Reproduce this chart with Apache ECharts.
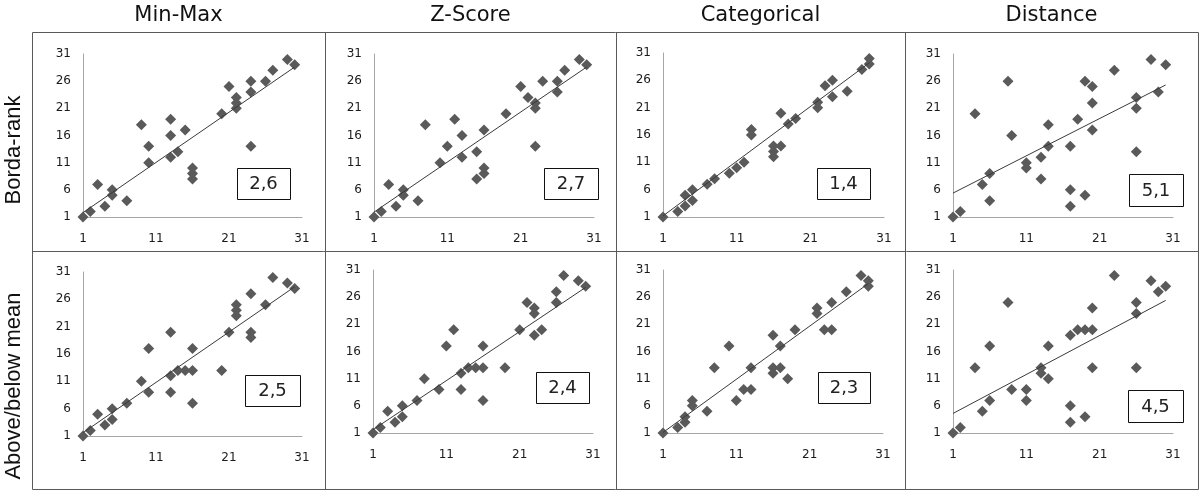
<!DOCTYPE html>
<html>
<head>
<meta charset="utf-8">
<script src="https://cdn.jsdelivr.net/npm/echarts@6/dist/echarts.min.js"></script>
<style>
html,body{margin:0;padding:0;background:#fff;}
#chart{width:1203px;height:491px;}
</style>
</head>
<body>
<div id="chart"></div>
<script>
// ---------- DATA ----------
const columnTitles = ['Min-Max', 'Z-Score', 'Categorical', 'Distance'];
const rowTitles = ['Borda-rank', 'Above/below mean'];
const yTickValues = [1, 6, 11, 16, 21, 26, 31];
const xTickValues = [1, 11, 21, 31];
const errorLabels = ['2,6', '2,7', '1,4', '5,1', '2,5', '2,4', '2,3', '4,5'];

const bordaMinMax = [[1,1],[2,2],[3,7],[4,3],[5,6],[5,5],[7,4],[9,18],[10,14],[10,11],[13,19],[13,16],[13,12],[14,13],[15,17],[16,10],[16,9],[16,8],[20,20],[21,25],[22,23],[22,22],[22,21],[24,26],[24,24],[24,14],[26,26],[27,28],[29,30],[30,29]];
const bordaZScore = [[1,1],[2,2],[3,7],[4,3],[5,6],[5,5],[7,4],[8,18],[10,11],[11,14],[12,19],[13,16],[13,12],[15,13],[15,8],[16,17],[16,10],[16,9],[19,20],[21,25],[22,23],[23,22],[23,21],[23,14],[24,26],[26,26],[26,24],[27,28],[29,30],[30,29]];
const bordaCategorical = [[1,1],[3,2],[4,3],[4,5],[5,4],[5,6],[7,7],[8,8],[10,9],[11,10],[12,11],[13,17],[13,16],[16,12],[16,13],[16,14],[17,14],[17,20],[18,18],[19,19],[22,22],[22,21],[23,25],[24,26],[24,23],[26,24],[28,28],[29,30],[29,29]];
const bordaDistance = [[1,1],[2,2],[4,20],[5,7],[6,4],[6,9],[8.5,26],[9,16],[11,11],[11,10],[13,12],[13,8],[14,18],[14,14],[17,14],[17,6],[17,3],[18,19],[19,26],[19,5],[20,25],[20,22],[20,17],[23,28],[26,23],[26,21],[26,13],[28,30],[29,24],[30,29]];
const aboveMinMax = [[1,1],[2,2],[3,5],[4,3],[5,6],[5,4],[7,7],[9,11],[10,17],[10,9],[13,20],[13,12],[13,9],[14,13],[15,13],[16,17],[16,13],[16,7],[20,13],[21,20],[22,25],[22,24],[22,23],[24,27],[24,20],[24,19],[26,25],[27,30],[29,29],[30,28]];
const aboveZScore = [[1,1],[2,2],[3,5],[4,3],[5,6],[5,4],[7,7],[8,11],[10,9],[11,17],[12,20],[13,12],[13,9],[14,13],[15,13],[16,17],[16,13],[16,7],[19,13],[21,20],[22,25],[23,24],[23,23],[23,19],[24,20],[26,27],[26,25],[27,30],[29,29],[30,28]];
const aboveCategorical = [[1,1],[3,2],[4,3],[4,4],[5,7],[5,6],[7,5],[8,13],[10,17],[11,7],[12,9],[13,9],[13,13],[16,19],[16,13],[16,12],[17,13],[17,17],[18,11],[19,20],[22,24],[22,23],[23,20],[24,25],[24,20],[26,27],[28,30],[29,29],[29,28]];
const aboveDistance = [[1,1],[2,2],[4,13],[5,5],[6,17],[6,7],[8.5,25],[9,9],[11,9],[11,7],[13,13],[13,12],[14,11],[14,17],[17,19],[17,6],[17,3],[18,20],[19,20],[19,4],[20,24],[20,20],[20,13],[23,30],[26,25],[26,23],[26,13],[28,29],[29,27],[30,28]];

const trendBordaMinMax = [[1,1.8],[30,28.6]];
const trendBordaZScore = [[1,1.9],[30,28.6]];
const trendBordaCategorical = [[1,1.2],[29,29.2]];
const trendBordaDistance = [[1,5.4],[30,25.3]];
const trendAboveMinMax = [[1,1.6],[30,28.3]];
const trendAboveZScore = [[1,1.6],[30,27.8]];
const trendAboveCategorical = [[1,1.1],[29,28.5]];
const trendAboveDistance = [[1,4.6],[30,25.4]];

const panelData = [bordaMinMax, bordaZScore, bordaCategorical, bordaDistance, aboveMinMax, aboveZScore, aboveCategorical, aboveDistance];
const panelTrends = [trendBordaMinMax, trendBordaZScore, trendBordaCategorical, trendBordaDistance, trendAboveMinMax, trendAboveZScore, trendAboveCategorical, trendAboveDistance];

// ---------- LAYOUT ----------
const gridBoxes = [
  [83, 54, 219, 163], [374, 54, 220, 163], [663, 53, 221, 164], [953, 54, 220, 163],
  [83, 272, 219, 164], [373, 270, 220, 163], [663, 270, 220, 163], [953, 270, 220, 163]
];
const labelBoxes = [
  [237, 168, 53, 31], [544, 168, 54, 31], [817, 168, 53, 31], [1129, 174, 54, 32],
  [245, 375, 55, 31], [536, 372, 53, 31], [818, 372, 52, 31], [1128, 390, 55, 32]
];
const frame = {left: 32, right: 1198, top: 32, mid: 251, bottom: 489, cols: [32, 325, 616, 905, 1198]};
const tickFont = {fontFamily: 'DejaVu Sans', fontSize: 12, color: '#1a1a1a'};

const grids = [], xAxes = [], yAxes = [], series = [];
gridBoxes.forEach((g, i) => {
  grids.push({left: g[0], top: g[1], width: g[2], height: g[3], containLabel: false});
  xAxes.push({
    gridIndex: i, type: 'value', min: 1, max: 31,
    axisLine: {show: true, onZero: false, lineStyle: {color: '#a6a6a6', width: 1}},
    axisTick: {show: false}, splitLine: {show: false},
    axisLabel: Object.assign({customValues: xTickValues, margin: 16}, tickFont)
  });
  yAxes.push({
    gridIndex: i, type: 'value', min: 1, max: 31,
    axisLine: {show: true, onZero: false, lineStyle: {color: '#a6a6a6', width: 1}},
    axisTick: {show: false}, splitLine: {show: false},
    axisLabel: Object.assign({customValues: yTickValues, margin: 12}, tickFont)
  });
  series.push({
    type: 'scatter', xAxisIndex: i, yAxisIndex: i, data: panelData[i],
    symbol: 'diamond', symbolSize: 11, itemStyle: {color: '#5a5a5a', opacity: 1},
    silent: true, z: 2
  });
  series.push({
    type: 'line', xAxisIndex: i, yAxisIndex: i, data: panelTrends[i],
    symbol: 'none', lineStyle: {color: '#3a3a3a', width: 1}, silent: true, z: 3
  });
});

const graphics = [];
const lineStyle = {stroke: '#5a5a5a', lineWidth: 1};
graphics.push({type: 'rect', shape: {x: frame.left + 0.5, y: frame.top + 0.5, width: frame.right - frame.left, height: frame.bottom - frame.top}, style: {fill: null, stroke: '#5a5a5a', lineWidth: 1}, z: 0});
frame.cols.slice(1, 4).forEach(x => {
  graphics.push({type: 'line', shape: {x1: x + 0.5, y1: frame.top, x2: x + 0.5, y2: frame.bottom}, style: lineStyle, z: 0});
});
graphics.push({type: 'line', shape: {x1: frame.left, y1: frame.mid + 0.5, x2: frame.right, y2: frame.mid + 0.5}, style: lineStyle, z: 0});
columnTitles.forEach((t, i) => {
  graphics.push({type: 'text', x: (frame.cols[i] + frame.cols[i + 1]) / 2, y: 16,
    style: {text: t, fontFamily: 'DejaVu Sans', fontSize: 21, fill: '#111', textAlign: 'center', textVerticalAlign: 'middle'}});
});
const rowCenters = [150, 386];
rowTitles.forEach((t, i) => {
  graphics.push({type: 'text', x: 14, y: rowCenters[i], rotation: Math.PI / 2,
    style: {text: t, fontFamily: 'Liberation Sans', fontSize: 22, fill: '#111', textAlign: 'center', textVerticalAlign: 'middle'}});
});
labelBoxes.forEach((b, i) => {
  graphics.push({type: 'rect', shape: {x: b[0] + 0.5, y: b[1] + 0.5, width: b[2], height: b[3]}, style: {fill: '#fff', stroke: '#111', lineWidth: 1}, z: 10});
  graphics.push({type: 'text', x: b[0] + b[2] / 2, y: b[1] + b[3] / 2 + 1, z: 11,
    style: {text: errorLabels[i], fontFamily: 'DejaVu Sans', fontSize: 18, fill: '#222', textAlign: 'center', textVerticalAlign: 'middle'}});
});

const chart = echarts.init(document.getElementById('chart'), null, {renderer: 'canvas'});
chart.setOption({
  animation: false,
  backgroundColor: '#fff',
  grid: grids, xAxis: xAxes, yAxis: yAxes, series: series,
  graphic: graphics
});
</script>
</body>
</html>
